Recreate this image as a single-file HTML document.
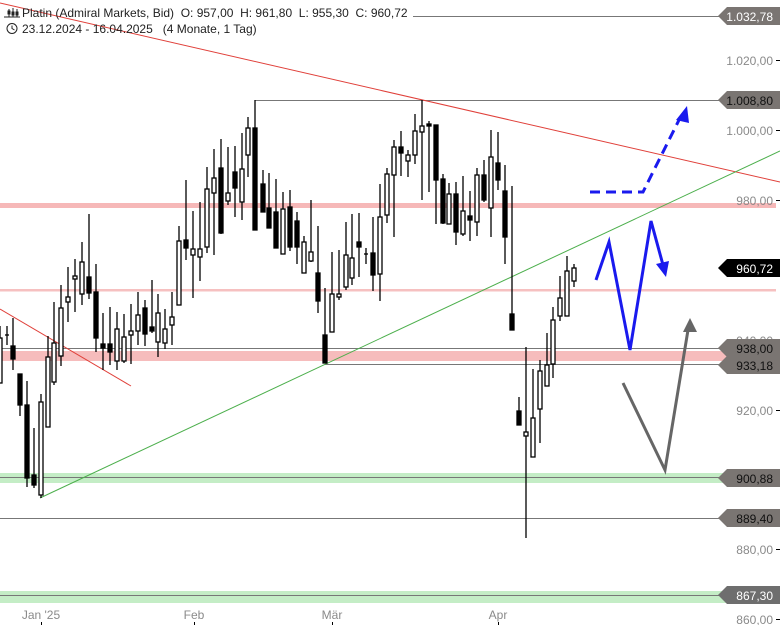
<!DOCTYPE html>
<html><head><meta charset="utf-8"><style>
body{margin:0;background:#fff;}
svg{display:block;font-family:"Liberation Sans",sans-serif;}
.pre{white-space:pre;}
</style></head><body>
<svg width="780" height="625" viewBox="0 0 780 625" xmlns="http://www.w3.org/2000/svg">
<rect x="0" y="203" width="776" height="5" fill="#f6b8b8"/>
<rect x="0" y="289" width="776" height="2.5" fill="#f6c0c0"/>
<rect x="0" y="351" width="776" height="10" fill="#f6bcbc"/>
<rect x="0" y="473" width="776" height="10" fill="#c4edc6"/>
<rect x="0" y="591" width="776" height="12" fill="#c4edc6"/>
<g stroke="#777" stroke-width="1">
<line x1="413" y1="16.5" x2="720" y2="16.5"/>
<line x1="255" y1="100.5" x2="720" y2="100.5"/>
<line x1="0" y1="348.5" x2="720" y2="348.5"/>
<line x1="325" y1="364.5" x2="720" y2="364.5"/>
<line x1="0" y1="477.5" x2="720" y2="477.5"/>
<line x1="0" y1="518.5" x2="720" y2="518.5"/>
<line x1="0" y1="595.5" x2="720" y2="595.5"/>
</g>
<line x1="0" y1="3" x2="780" y2="182" stroke="#e0403a" stroke-width="1"/>
<line x1="0" y1="309" x2="131" y2="386" stroke="#e0403a" stroke-width="1"/>
<line x1="40" y1="498" x2="780" y2="151" stroke="#4caf4c" stroke-width="1"/>
<g stroke="#000" stroke-width="1.3">
<line x1="0" y1="326" x2="0" y2="383"/><rect x="-2" y="338" width="4" height="45" fill="#fff"/>
<line x1="7" y1="326" x2="7" y2="345"/><line x1="5" y1="335" x2="9" y2="335"/>
<line x1="13" y1="318" x2="13" y2="370"/><rect x="11" y="346" width="4" height="13" fill="#000"/>
<line x1="20" y1="374" x2="20" y2="416"/><rect x="18" y="374" width="4" height="31" fill="#000"/>
<line x1="27" y1="381" x2="27" y2="487"/><rect x="25" y="405" width="4" height="73" fill="#000"/>
<line x1="34" y1="428" x2="34" y2="488"/><rect x="32" y="475" width="4" height="10" fill="#000"/>
<line x1="41" y1="394" x2="41" y2="498"/><rect x="39" y="402" width="4" height="93" fill="#fff"/>
<line x1="48" y1="336" x2="48" y2="427"/><rect x="46" y="357" width="4" height="70" fill="#fff"/>
<line x1="54" y1="302" x2="54" y2="385"/><rect x="52" y="343" width="4" height="39" fill="#fff"/>
<line x1="61" y1="285" x2="61" y2="366"/><rect x="59" y="308" width="4" height="48" fill="#fff"/>
<line x1="68" y1="267" x2="68" y2="322"/><rect x="66" y="297" width="4" height="5" fill="#fff"/>
<line x1="75" y1="259" x2="75" y2="312"/><rect x="73" y="276" width="4" height="3" fill="#fff"/>
<line x1="82" y1="242" x2="82" y2="305"/><rect x="80" y="262" width="4" height="32" fill="#fff"/>
<line x1="89" y1="214" x2="89" y2="299"/><rect x="87" y="277" width="4" height="16" fill="#000"/>
<line x1="96" y1="264" x2="96" y2="352"/><rect x="94" y="292" width="4" height="46" fill="#000"/>
<line x1="103" y1="313" x2="103" y2="370"/><rect x="101" y="344" width="4" height="4" fill="#000"/>
<line x1="110" y1="307" x2="110" y2="365"/><rect x="108" y="344" width="4" height="8" fill="#000"/>
<line x1="117" y1="312" x2="117" y2="370"/><rect x="115" y="329" width="4" height="32" fill="#fff"/>
<line x1="124" y1="314" x2="124" y2="363"/><rect x="122" y="337" width="4" height="24" fill="#fff"/>
<line x1="131" y1="304" x2="131" y2="364"/><rect x="129" y="331" width="4" height="4" fill="#fff"/>
<line x1="138" y1="292" x2="138" y2="345"/><rect x="136" y="315" width="4" height="16" fill="#fff"/>
<line x1="145" y1="300" x2="145" y2="346"/><rect x="143" y="308" width="4" height="26" fill="#000"/>
<line x1="152" y1="280" x2="152" y2="333"/><rect x="150" y="327" width="4" height="4" fill="#000"/>
<line x1="158" y1="294" x2="158" y2="357"/><rect x="156" y="313" width="4" height="29" fill="#fff"/>
<line x1="165" y1="309" x2="165" y2="349"/><rect x="163" y="329" width="4" height="14" fill="#fff"/>
<line x1="172" y1="292" x2="172" y2="345"/><rect x="170" y="317" width="4" height="8" fill="#fff"/>
<line x1="179" y1="226" x2="179" y2="305"/><rect x="177" y="241" width="4" height="64" fill="#fff"/>
<line x1="186" y1="180" x2="186" y2="260"/><rect x="184" y="240" width="4" height="8" fill="#000"/>
<line x1="193" y1="211" x2="193" y2="298"/><rect x="191" y="249" width="4" height="6" fill="#fff"/>
<line x1="200" y1="202" x2="200" y2="281"/><rect x="198" y="249" width="4" height="8" fill="#fff"/>
<line x1="207" y1="167" x2="207" y2="253"/><rect x="205" y="189" width="4" height="58" fill="#fff"/>
<line x1="214" y1="149" x2="214" y2="255"/><rect x="212" y="178" width="4" height="15" fill="#fff"/>
<line x1="221" y1="139" x2="221" y2="234"/><rect x="219" y="168" width="4" height="65" fill="#000"/>
<line x1="228" y1="147" x2="228" y2="205"/><rect x="226" y="193" width="4" height="8" fill="#fff"/>
<line x1="235" y1="146" x2="235" y2="217"/><rect x="233" y="172" width="4" height="16" fill="#000"/>
<line x1="242" y1="133" x2="242" y2="220"/><rect x="240" y="169" width="4" height="33" fill="#fff"/>
<line x1="248" y1="117" x2="248" y2="177"/><rect x="246" y="128" width="4" height="27" fill="#fff"/>
<line x1="255" y1="100" x2="255" y2="230"/><rect x="253" y="128" width="4" height="102" fill="#000"/>
<line x1="263" y1="170" x2="263" y2="212"/><rect x="261" y="184" width="4" height="28" fill="#000"/>
<line x1="269" y1="173" x2="269" y2="228"/><rect x="267" y="208" width="4" height="20" fill="#000"/>
<line x1="276" y1="179" x2="276" y2="248"/><rect x="274" y="212" width="4" height="36" fill="#000"/>
<line x1="283" y1="192" x2="283" y2="254"/><rect x="281" y="209" width="4" height="45" fill="#fff"/>
<line x1="290" y1="190" x2="290" y2="251"/><rect x="288" y="207" width="4" height="40" fill="#000"/>
<line x1="297" y1="212" x2="297" y2="264"/><rect x="295" y="221" width="4" height="26" fill="#000"/>
<line x1="304" y1="236" x2="304" y2="273"/><rect x="302" y="242" width="4" height="31" fill="#fff"/>
<line x1="311" y1="200" x2="311" y2="262"/><rect x="309" y="252" width="4" height="9" fill="#fff"/>
<line x1="318" y1="226" x2="318" y2="313"/><rect x="316" y="273" width="4" height="28" fill="#000"/>
<line x1="325" y1="288" x2="325" y2="363"/><rect x="323" y="335" width="4" height="28" fill="#000"/>
<line x1="332" y1="252" x2="332" y2="332"/><rect x="330" y="294" width="4" height="38" fill="#fff"/>
<line x1="339" y1="250" x2="339" y2="300"/><rect x="337" y="294" width="4" height="3" fill="#fff"/>
<line x1="346" y1="222" x2="346" y2="290"/><rect x="344" y="255" width="4" height="32" fill="#fff"/>
<line x1="352" y1="214" x2="352" y2="285"/><rect x="350" y="258" width="4" height="20" fill="#fff"/>
<line x1="359" y1="213" x2="359" y2="277"/><rect x="357" y="242" width="4" height="5" fill="#000"/>
<line x1="366" y1="248" x2="366" y2="264"/><line x1="364" y1="254" x2="368" y2="254"/>
<line x1="373" y1="217" x2="373" y2="291"/><rect x="371" y="253" width="4" height="22" fill="#000"/>
<line x1="380" y1="184" x2="380" y2="301"/><rect x="378" y="217" width="4" height="57" fill="#fff"/>
<line x1="387" y1="168" x2="387" y2="223"/><rect x="385" y="174" width="4" height="41" fill="#fff"/>
<line x1="394" y1="140" x2="394" y2="237"/><rect x="392" y="147" width="4" height="28" fill="#fff"/>
<line x1="401" y1="131" x2="401" y2="176"/><rect x="399" y="147" width="4" height="6" fill="#000"/>
<line x1="408" y1="150" x2="408" y2="177"/><rect x="406" y="155" width="4" height="6" fill="#fff"/>
<line x1="415" y1="114" x2="415" y2="164"/><rect x="413" y="131" width="4" height="24" fill="#fff"/>
<line x1="422" y1="100" x2="422" y2="200"/><rect x="420" y="126" width="4" height="6" fill="#fff"/>
<line x1="429" y1="121" x2="429" y2="192"/><rect x="427" y="124" width="4" height="2" fill="#000"/>
<line x1="436" y1="125" x2="436" y2="224"/><rect x="434" y="125" width="4" height="55" fill="#000"/>
<line x1="443" y1="174" x2="443" y2="224"/><rect x="441" y="179" width="4" height="44" fill="#000"/>
<line x1="449" y1="183" x2="449" y2="224"/><rect x="447" y="194" width="4" height="30" fill="#fff"/>
<line x1="456" y1="182" x2="456" y2="245"/><rect x="454" y="194" width="4" height="38" fill="#000"/>
<line x1="463" y1="176" x2="463" y2="236"/><rect x="461" y="211" width="4" height="23" fill="#fff"/>
<line x1="470" y1="191" x2="470" y2="241"/><rect x="468" y="216" width="4" height="4" fill="#000"/>
<line x1="477" y1="168" x2="477" y2="236"/><rect x="475" y="175" width="4" height="47" fill="#fff"/>
<line x1="484" y1="160" x2="484" y2="202"/><rect x="482" y="175" width="4" height="25" fill="#000"/>
<line x1="491" y1="130" x2="491" y2="237"/><rect x="489" y="157" width="4" height="51" fill="#fff"/>
<line x1="498" y1="132" x2="498" y2="190"/><rect x="496" y="163" width="4" height="17" fill="#000"/>
<line x1="505" y1="165" x2="505" y2="264"/><rect x="503" y="191" width="4" height="46" fill="#000"/>
<line x1="512" y1="186" x2="512" y2="330"/><rect x="510" y="314" width="4" height="16" fill="#000"/>
<line x1="519" y1="397" x2="519" y2="425"/><rect x="517" y="411" width="4" height="14" fill="#000"/>
<line x1="526" y1="347" x2="526" y2="538"/><rect x="524" y="432" width="4" height="4" fill="#fff"/>
<line x1="533" y1="369" x2="533" y2="457"/><rect x="531" y="418" width="4" height="39" fill="#fff"/>
<line x1="540" y1="360" x2="540" y2="443"/><rect x="538" y="371" width="4" height="38" fill="#fff"/>
<line x1="547" y1="333" x2="547" y2="386"/><rect x="545" y="365" width="4" height="21" fill="#fff"/>
<line x1="553" y1="307" x2="553" y2="378"/><rect x="551" y="320" width="4" height="44" fill="#fff"/>
<line x1="560" y1="276" x2="560" y2="321"/><rect x="558" y="298" width="4" height="18" fill="#fff"/>
<line x1="567" y1="256" x2="567" y2="316"/><rect x="565" y="271" width="4" height="45" fill="#fff"/>
<line x1="574" y1="264" x2="574" y2="287"/><rect x="572" y="268" width="4" height="13" fill="#fff"/>
</g>
<g fill="none" stroke-width="3">
<polyline points="590,192 643,192 680,118" stroke="#1a1aee" stroke-dasharray="10,6"/>
<polyline points="596,280 609,242 630,350 651,221 663,265" stroke="#1a1aee"/>
<polyline points="623,383 665,470 688,330" stroke="#666"/>
</g>
<polygon points="687,106 676,120 689,123" fill="#1a1aee"/>
<polygon points="666,277 656,264 669,261" fill="#1a1aee"/>
<polygon points="690,318 683,332 697,332" fill="#666"/>
<g font-size="12" fill="#222" class="pre">
<text x="22" y="17" class="pre">Platin (Admiral Markets, Bid)  O: 957,00  H: 961,80  L: 955,30  C: 960,72</text>
<text x="22" y="33" class="pre">23.12.2024 - 16.04.2025   (4 Monate, 1 Tag)</text>
</g>
<g stroke="#222" stroke-width="1" fill="none">
<circle cx="12" cy="28.5" r="5"/><polyline points="12,25.5 12,28.5 14.5,30"/>
<line x1="9" y1="9" x2="9" y2="17"/><line x1="13" y1="8" x2="13" y2="17"/><line x1="17" y1="9" x2="17" y2="17"/>
<rect x="8" y="11" width="2" height="3"/><rect x="12" y="12" width="2" height="3"/><rect x="16" y="12" width="2" height="3"/>
<line x1="4" y1="17" x2="20" y2="17"/>
</g>
<g font-size="12" fill="#8a8a8a" text-anchor="end">
<text x="773" y="65">1.020,00</text>
<text x="773" y="135">1.000,00</text>
<text x="773" y="205">980,00</text>
<text x="773" y="345">940,00</text>
<text x="773" y="415">920,00</text>
<text x="773" y="554">880,00</text>
<text x="773" y="624">860,00</text>
</g>
<g stroke="#000" stroke-width="1">
<line x1="776" y1="60.5" x2="780" y2="60.5"/><line x1="776" y1="130.5" x2="780" y2="130.5"/>
<line x1="776" y1="200.5" x2="780" y2="200.5"/><line x1="776" y1="410.5" x2="780" y2="410.5"/>
<line x1="776" y1="549.5" x2="780" y2="549.5"/><line x1="776" y1="619.5" x2="780" y2="619.5"/>
</g>
<g>
<polygon points="718,16 727,7 780,7 780,25 727,25" fill="#7a7572"/>
<polygon points="718,100 727,91 780,91 780,109 727,109" fill="#7a7572"/>
<polygon points="718,268 727,259 780,259 780,277 727,277" fill="#000"/>
<polygon points="718,348 727,339 780,339 780,357 727,357" fill="#7a7572"/>
<polygon points="718,365 727,356 780,356 780,374 727,374" fill="#7a7572"/>
<polygon points="718,478 727,469 780,469 780,487 727,487" fill="#7a7572"/>
<polygon points="718,518 727,509 780,509 780,527 727,527" fill="#7a7572"/>
<polygon points="718,595 727,586 780,586 780,604 727,604" fill="#6e6e6e"/>
</g>
<g font-size="12" text-anchor="end">
<text x="773" y="21" fill="#fff">1.032,78</text>
<text x="773" y="105" fill="#111">1.008,80</text>
<text x="773" y="273" fill="#fff">960,72</text>
<text x="773" y="353" fill="#111">938,00</text>
<text x="773" y="370" fill="#111">933,18</text>
<text x="773" y="483" fill="#111">900,88</text>
<text x="773" y="523" fill="#111">889,40</text>
<text x="773" y="600" fill="#fff">867,30</text>
</g>
<g font-size="12" fill="#8a8a8a" text-anchor="middle">
<text x="41" y="619">Jan '25</text>
<text x="194" y="619">Feb</text>
<text x="332" y="619">Mär</text>
<text x="498" y="619">Apr</text>
</g>
<g stroke="#000" stroke-width="1">
<line x1="41.5" y1="622" x2="41.5" y2="625"/><line x1="194.5" y1="622" x2="194.5" y2="625"/>
<line x1="332.5" y1="622" x2="332.5" y2="625"/><line x1="498.5" y1="622" x2="498.5" y2="625"/>
</g>
</svg>
</body></html>
